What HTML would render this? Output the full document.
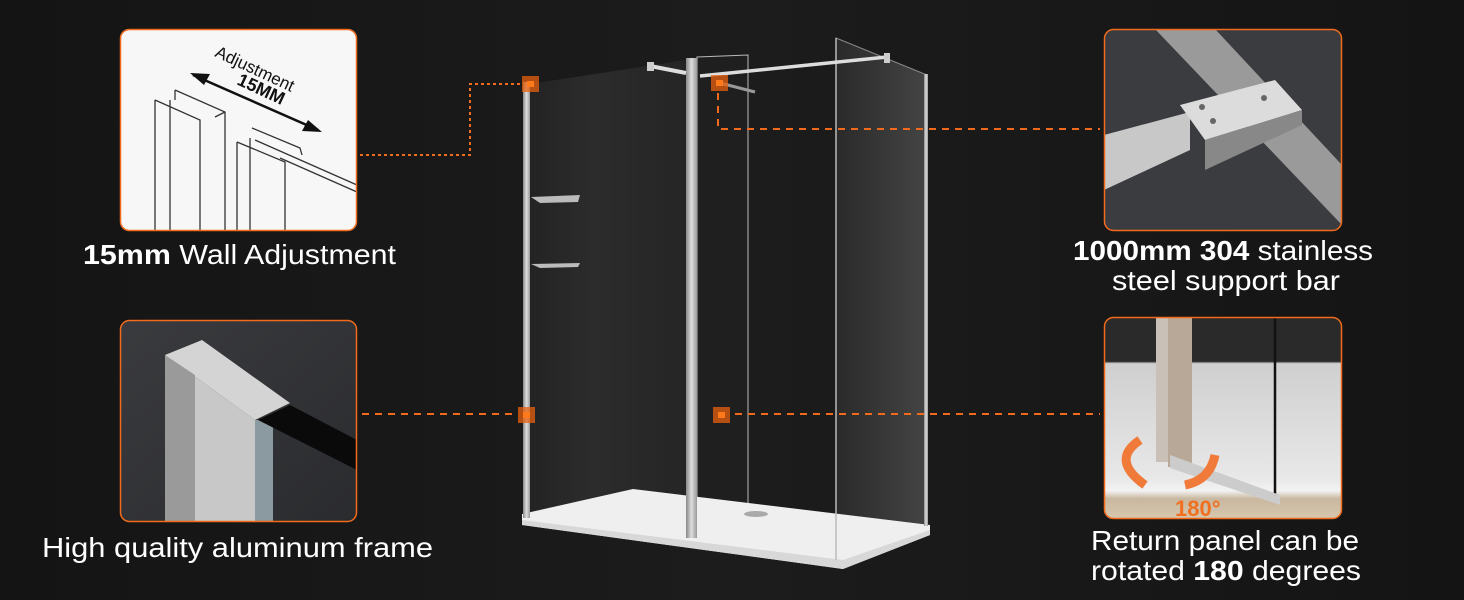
<!DOCTYPE html>
<html><head><meta charset="utf-8"><style>
html,body{margin:0;padding:0;background:#161616;}
svg{display:block}
text{font-family:"Liberation Sans","Noto Sans CJK SC",sans-serif;fill:#fff;font-size:28px}
</style></head><body>
<svg width="1464" height="600" viewBox="0 0 1464 600" xmlns="http://www.w3.org/2000/svg">
<defs>
<linearGradient id="bg" x1="0" y1="0" x2="1" y2="0"><stop offset="0" stop-color="#141414"/><stop offset="0.5" stop-color="#1c1c1c"/><stop offset="1" stop-color="#141414"/></linearGradient>
<linearGradient id="glassL" x1="0" y1="0" x2="1" y2="0"><stop offset="0" stop-color="#232323"/><stop offset="0.4" stop-color="#2c2c2c"/><stop offset="1" stop-color="#252525"/></linearGradient>
<linearGradient id="glassR" x1="0" y1="0" x2="1" y2="0"><stop offset="0" stop-color="#2a2a2a"/><stop offset="1" stop-color="#444"/></linearGradient>
<linearGradient id="chrome" x1="0" y1="0" x2="1" y2="0"><stop offset="0" stop-color="#888"/><stop offset="0.5" stop-color="#ddd"/><stop offset="1" stop-color="#999"/></linearGradient>
<linearGradient id="dark" x1="0" y1="0" x2="1" y2="1"><stop offset="0" stop-color="#3a3b3e"/><stop offset="1" stop-color="#2a2b2e"/></linearGradient>
<linearGradient id="room" x1="0" y1="0" x2="0" y2="1"><stop offset="0" stop-color="#2a2a2a"/><stop offset="0.22" stop-color="#2a2a2a"/><stop offset="0.23" stop-color="#cfcfcf"/><stop offset="0.8" stop-color="#e8e8e8"/><stop offset="0.86" stop-color="#f2f2f2"/><stop offset="0.9" stop-color="#c9b79f"/><stop offset="1" stop-color="#d8c8b0"/></linearGradient>
<clipPath id="c1"><rect x="120" y="29" width="237" height="202" rx="9"/></clipPath>
<clipPath id="c2"><rect x="120" y="320" width="237" height="202" rx="9"/></clipPath>
<clipPath id="c3"><rect x="1104" y="29" width="238" height="202" rx="9"/></clipPath>
<clipPath id="c4"><rect x="1104" y="317" width="238" height="202" rx="9"/></clipPath>
</defs>
<rect width="1464" height="600" fill="url(#bg)"/>

<polygon points="530,84 686,60 686,520 530,516" fill="url(#glassL)"/>
<polygon points="697,57 748,55 748,542 697,540" fill="#1f1f1f" stroke="#bbb" stroke-width="1"/>
<polygon points="836,38 927,75 927,525 836,560" fill="url(#glassR)" stroke="#888" stroke-width="1"/>
<polygon points="522,514 633,489 930,525 930,535 843,569 522,525" fill="#efefef"/>
<polygon points="522,520 843,560 930,530 930,535 843,569 522,525" fill="#d8d8d8"/>
<ellipse cx="756" cy="514" rx="12" ry="3" fill="#aaa"/>
<rect x="523" y="82" width="7" height="436" fill="url(#chrome)"/>
<rect x="686" y="58" width="11" height="480" fill="url(#chrome)"/>
<rect x="924" y="74" width="4" height="452" fill="url(#chrome)"/>
<line x1="836" y1="38" x2="836" y2="560" stroke="#bbb" stroke-width="1.5"/>
<line x1="650" y1="66" x2="686" y2="73" stroke="#ddd" stroke-width="4"/>
<rect x="647" y="62" width="7" height="9" fill="#ccc"/>
<line x1="700" y1="76" x2="887" y2="57" stroke="#ddd" stroke-width="3.5"/>
<rect x="884" y="53" width="6" height="10" fill="#ccc"/>
<line x1="720" y1="83" x2="755" y2="92" stroke="#999" stroke-width="3"/>
<path d="M531,197 L580,195 L578,202 L540,203 Z" fill="#bbb"/>
<path d="M531,264 L580,263 L578,267 L540,268 Z" fill="#bbb"/>

<g stroke="#f26a1b" stroke-width="2" fill="none">
<polyline points="360,155 470,155 470,84 522,84" stroke-dasharray="3,3"/>
<polyline points="718,93 718,129 1100,129" stroke-dasharray="7,6"/>
<line x1="362" y1="414" x2="518" y2="414" stroke-dasharray="7,6"/>
<line x1="735" y1="414" x2="1100" y2="414" stroke-dasharray="7,6"/>
</g>
<g>
<rect x="522" y="76" width="17" height="16" fill="#e8620f" opacity="0.75"/><rect x="527" y="81" width="7" height="6" fill="#ff7a1a"/>
<rect x="711" y="75" width="17" height="16" fill="#e8620f" opacity="0.75"/><rect x="716" y="80" width="7" height="6" fill="#ff7a1a"/>
<rect x="518" y="407" width="17" height="16" fill="#e8620f" opacity="0.75"/><rect x="523" y="412" width="7" height="6" fill="#ff7a1a"/>
<rect x="713" y="407" width="17" height="16" fill="#e8620f" opacity="0.75"/><rect x="718" y="412" width="7" height="6" fill="#ff7a1a"/>
</g>

<g clip-path="url(#c1)">
<rect x="120" y="29" width="237" height="202" fill="#f7f7f7"/>
<g stroke="#333" stroke-width="1.3" fill="none">
<path d="M155,100 L155,231 M170,100 L170,231 M155,100 L200,120 L200,231 M175,90 L225,112 L225,231 M175,90 L175,100 M225,112 L215,117"/>
<path d="M237,142 L237,231 M250,138 L250,231 M237,142 L285,162 L285,231 M252,128 L300,148 L302,155 M255,140 L357,185 M280,158 L357,192"/>
</g>
<path d="M193,75 L318,130" stroke="#111" stroke-width="2.5"/>
<polygon points="190,73 210,74 204,85" fill="#111"/><polygon points="322,132 302,131 308,120" fill="#111"/>
<text x="214" y="56" style="font-size:17px;fill:#111" transform="rotate(25 214 56)">Adjustment</text>
<text x="236" y="84" style="font-size:18px;font-weight:bold;fill:#111" transform="rotate(25 236 84)">15MM</text>
</g>
<rect x="120.5" y="29.5" width="236" height="201" rx="9" fill="none" stroke="#f26a1b" stroke-width="1.5"/>

<g clip-path="url(#c2)">
<rect x="120" y="320" width="237" height="202" fill="url(#dark)"/>
<polygon points="165,355 202,340 290,403 255,420" fill="#d4d4d4"/>
<polygon points="165,355 255,420 255,522 165,522" fill="#c8c8c8"/>
<polygon points="165,355 195,375 195,522 165,522" fill="#9a9a9a"/>
<rect x="255" y="420" width="18" height="102" fill="#8a9aa0"/>
<polygon points="258,420 290,405 357,440 357,470" fill="#0a0a0a"/>
</g>
<rect x="120.5" y="320.5" width="236" height="201" rx="9" fill="none" stroke="#f26a1b" stroke-width="1.5"/>

<g clip-path="url(#c3)">
<rect x="1104" y="29" width="238" height="202" fill="#3b3c40"/>
<polygon points="1155,29 1215,29 1342,165 1342,225" fill="#9a9a9a"/>
<polygon points="1104,135 1190,112 1190,150 1104,190" fill="#c8c8c8"/>
<polygon points="1180,105 1275,80 1302,110 1205,140" fill="#dcdcdc"/>
<polygon points="1205,140 1302,110 1302,125 1205,170" fill="#888"/>
<circle cx="1202" cy="107" r="3" fill="#666"/><circle cx="1213" cy="121" r="3" fill="#666"/><circle cx="1264" cy="98" r="3" fill="#666"/>
</g>
<rect x="1104.5" y="29.5" width="237" height="201" rx="9" fill="none" stroke="#f26a1b" stroke-width="1.5"/>

<g clip-path="url(#c4)">
<rect x="1104" y="317" width="238" height="202" fill="url(#room)"/>
<rect x="1156" y="317" width="12" height="145" fill="#c9c0b8"/>
<rect x="1168" y="317" width="24" height="150" fill="#b8a898"/>
<line x1="1275" y1="317" x2="1275" y2="500" stroke="#111" stroke-width="2.5"/>
<polygon points="1170,455 1280,495 1280,505 1170,468" fill="#ccc"/>
<path d="M1140,440 Q1110,460 1145,485" stroke="#f07a3a" stroke-width="9" fill="none"/>
<path d="M1185,485 Q1210,480 1215,455" stroke="#f07a3a" stroke-width="9" fill="none"/>
<text x="1175" y="516" style="font-size:22px;font-weight:bold;fill:#f07020">180°</text>
</g>
<rect x="1104.5" y="317.5" width="237" height="201" rx="9" fill="none" stroke="#f26a1b" stroke-width="1.5"/>

<text x="83" y="264" textLength="313" lengthAdjust="spacingAndGlyphs"><tspan font-weight="bold">15mm</tspan> Wall Adjustment</text>
<text x="42" y="557" textLength="391" lengthAdjust="spacingAndGlyphs">High quality aluminum frame</text>
<text x="1073" y="260" textLength="300" lengthAdjust="spacingAndGlyphs"><tspan font-weight="bold">1000mm 304</tspan> stainless</text>
<text x="1112" y="290" textLength="228" lengthAdjust="spacingAndGlyphs">steel support bar</text>
<text x="1091" y="550" textLength="268" lengthAdjust="spacingAndGlyphs">Return panel can be</text>
<text x="1091" y="580" textLength="270" lengthAdjust="spacingAndGlyphs">rotated <tspan font-weight="bold">180</tspan> degrees</text>
</svg>
</body></html>
